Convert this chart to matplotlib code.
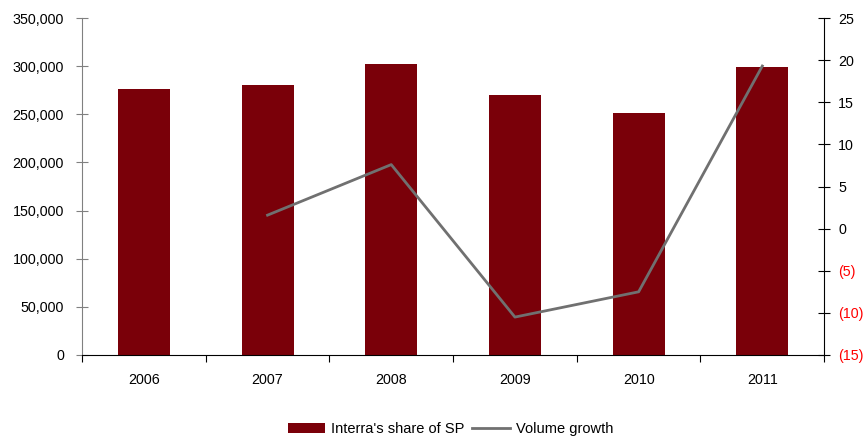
import matplotlib
matplotlib.use("Agg")
import matplotlib.pyplot as plt
from matplotlib.ticker import FuncFormatter, MultipleLocator
from matplotlib.patches import Patch
from matplotlib.lines import Line2D

plt.rcParams['font.family'] = ['Liberation Sans', 'DejaVu Sans']

years = ['2006', '2007', '2008', '2009', '2010', '2011']
share_sp = [276000, 280500, 302500, 270500, 251500, 299500]
growth_years = ['2007', '2008', '2009', '2010', '2011']
volume_growth = [1.6, 7.6, -10.5, -7.5, 19.3]

bar_color = '#7A0009'
line_color = '#707070'
axis_color = '#808080'

fig = plt.figure(figsize=(8.66, 4.38), dpi=100)
ax = fig.add_axes([0.0947, 0.1895, 0.857, 0.7694])

x = list(range(len(years)))
ax.bar(x, share_sp, width=0.42, color=bar_color, zorder=2)
ax.set_xlim(-0.5, len(years) - 0.5)
ax.set_ylim(0, 350000)
ax.yaxis.set_major_locator(MultipleLocator(50000))
ax.yaxis.set_major_formatter(FuncFormatter(lambda v, p: f"{int(v):,}"))
ax.set_xticks([i + 0.5 for i in range(-1, len(years))], minor=False)
ax.set_xticklabels([])
ax.set_xticks(x, minor=True)
ax.set_xticklabels(years, minor=True)
ax.tick_params(axis='x', which='major', direction='out', length=5, color='black', width=0.8)
ax.tick_params(axis='x', which='minor', length=0, pad=13, labelsize=10.3)
ax.tick_params(axis='y', direction='inout', length=8, color=axis_color, width=0.8,
               labelsize=10.3, pad=9)

for s in ['top', 'right']:
    ax.spines[s].set_visible(False)
ax.spines['left'].set_color(axis_color)
ax.spines['bottom'].set_color('black')

ax2 = ax.twinx()
gx = [years.index(y) for y in growth_years]
ax2.plot(gx, volume_growth, color=line_color, linewidth=2.0, zorder=3)
ax2.set_ylim(-15, 25)
ax2.yaxis.set_major_locator(MultipleLocator(5))
ax2.yaxis.set_major_formatter(FuncFormatter(
    lambda v, p: f"({abs(int(round(v)))})" if v < 0 else f"{int(round(v))}"))
ax2.tick_params(axis='y', direction='inout', length=8, color='black', width=0.8,
                labelsize=10.3, pad=6)
for s in ['top', 'left', 'bottom']:
    ax2.spines[s].set_visible(False)
ax2.spines['right'].set_color('black')
fig.canvas.draw()
for t in ax2.get_yticklabels():
    if t.get_text().startswith('('):
        t.set_color('#FF0000')

handles = [Patch(facecolor=bar_color, edgecolor='none'),
           Line2D([0], [0], color=line_color, linewidth=2.0)]
fig.legend(handles, ["Interra's share of SP", "Volume growth"],
           loc='center', bbox_to_anchor=(0.52, 0.02), ncol=2, frameon=False,
           fontsize=10.5, handlelength=2.6, handleheight=0.6, columnspacing=0.5,
           handletextpad=0.4)

fig.savefig('out.png', dpi=100)
